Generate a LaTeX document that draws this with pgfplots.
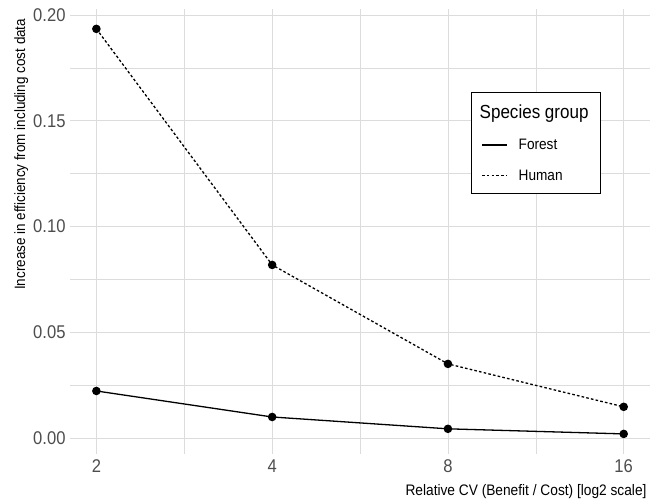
\documentclass[border=0pt]{standalone}
\usepackage{fontspec}
\setmainfont[FakeStretch=0.9]{Liberation Sans}
\usepackage{pgfplots}
\pgfplotsset{compat=1.18}
\definecolor{txtgray}{HTML}{4D4D4D}
\definecolor{gridc}{HTML}{DCDCDC}
\begin{document}
\begin{tikzpicture}[x=1bp,y=1bp]
\path[use as bounding box] (0,0) rectangle (650,500);
\begin{axis}[
  at={(70bp,46bp)}, anchor=south west,
  scale only axis, width=580bp, height=445bp,
  xmode=log, log basis x=2,
  xmin=1.8025, xmax=17.75,
  ymin=-0.0076, ymax=0.2028,
  axis line style={draw=none},
  tick style={draw=none},
  xtick={2,4,8,16}, xticklabels={2,4,8,16},
  minor x tick num=0,
  extra x ticks={2.8284,5.6569,11.3137},
  extra x tick labels={},
  extra x tick style={grid=major, major grid style={draw=gridc, line width=0.5bp}},
  ytick={0,0.05,0.10,0.15,0.20},
  minor ytick={0.025,0.075,0.125,0.175},
  yticklabels={0.00,0.05,0.10,0.15,0.20},
  ymajorgrids, yminorgrids, xmajorgrids,
  major grid style={draw=gridc, line width=0.7bp},
  minor grid style={draw=gridc, line width=0.5bp},
  ticklabel style={font=\fontsize{18.5}{20}\selectfont, text=txtgray},
  /pgf/number format/assume math mode=true,
  xticklabel style={yshift=-2bp},
  yticklabel style={xshift=-1bp},
  xlabel={Relative CV (Benefit / Cost) [log2 scale]},
  xlabel style={font=\fontsize{15.3}{17}\selectfont, at={(axis description cs:1,0)}, anchor=north east, yshift=-27bp},
  ylabel={Increase in efficiency from including cost data},
  ylabel style={font=\fontsize{15}{17}\selectfont, at={(axis description cs:-0.066,0.986)}, anchor=south east},
  legend cell align=left,
  legend style={at={(axis description cs:0.691,0.813)}, anchor=north west,
    draw=black, line width=1.2bp, fill=white,
    font=\fontsize{15.2}{17}\selectfont,
    inner xsep=10bp, inner ysep=10bp, row sep=15bp,
    /tikz/every odd column/.append style={column sep=9bp}},
  legend image code/.code={\draw[#1, line width=1.3bp] (0bp,0bp) -- (25bp,0bp);},
]
\addlegendimage{empty legend}
\addlegendentry{\hspace*{-39bp}\fontsize{19}{21}\selectfont Species group}
\addplot[black, line width=1.3bp, mark=*, mark size=3.6bp, mark options={solid}] coordinates {
 (2,0.0222) (4,0.0099) (8,0.0043) (16,0.0019)
};
\addlegendentry{Forest}
\addplot[black, line width=1.3bp, dash pattern=on 2.6bp off 2.2bp, mark=*, mark size=3.6bp, mark options={solid}] coordinates {
 (2,0.1934) (4,0.0818) (8,0.0350) (16,0.0147)
};
\addlegendentry{Human}
\end{axis}
\end{tikzpicture}
\end{document}
